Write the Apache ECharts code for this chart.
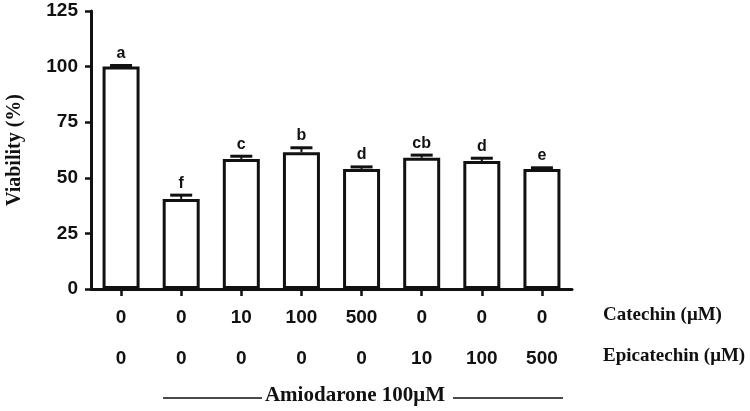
<!DOCTYPE html>
<html>
<head>
<meta charset="utf-8">
<script src="https://cdn.jsdelivr.net/npm/echarts@6/dist/echarts.min.js"></script>
<style>
html,body{margin:0;padding:0;background:#fff;}
#chart{width:750px;height:411px;}
</style>
</head>
<body>
<div id="chart"></div>
<script>
const catechin = ['0', '0', '10', '100', '500', '0', '0', '0'];
const epicatechin = ['0', '0', '0', '0', '0', '10', '100', '500'];
const viability = [100, 40.5, 58.5, 61.5, 54.0, 59.0, 57.5, 54.0];
const errors = [0.5, 1.7, 1.2, 2.0, 0.9, 1.2, 1.3, 0.5];
const letters = ['a', 'f', 'c', 'b', 'd', 'cb', 'd', 'e'];
const yTicks = [0, 25, 50, 75, 100, 125];
const groupLabel = 'Amiodarone 100\u03bcM';
const rowLabels = ['Catechin (\u03bcM)', 'Epicatechin (\u03bcM)'];

const idx = catechin.map((_, i) => i);
const SANS = '"Liberation Sans", Arial, sans-serif';
const SERIF = '"Liberation Serif", "Times New Roman", serif';

const chart = echarts.init(document.getElementById('chart'), null, {renderer: 'canvas'});
chart.setOption({
  animation: false,
  backgroundColor: '#fff',
  grid: {left: 91, right: 178, top: 11, bottom: 122, containLabel: false, outerBoundsMode: 'none'},
  xAxis: {
    type: 'category',
    data: idx,
    boundaryGap: true,
    axisLine: {lineStyle: {color: '#111', width: 3}},
    axisTick: {show: true, alignWithLabel: true, length: 7, lineStyle: {color: '#111', width: 2.5}},
    axisLabel: {
      interval: 0,
      margin: 8,
      formatter: function (v) {
        const i = Number(v);
        return '{a|' + catechin[i] + '}\n{b|' + epicatechin[i] + '}';
      },
      rich: {
        a: {fontFamily: SANS, fontWeight: 'bold', fontSize: 19, color: '#111', lineHeight: 41},
        b: {fontFamily: SANS, fontWeight: 'bold', fontSize: 19, color: '#111', lineHeight: 41}
      }
    },
    splitLine: {show: false}
  },
  yAxis: {
    type: 'value',
    min: yTicks[0],
    max: yTicks[yTicks.length - 1],
    interval: 25,
    name: 'Viability (%)',
    nameLocation: 'middle',
    nameGap: 66,
    nameRotate: 90,
    nameTextStyle: {fontFamily: SERIF, fontWeight: 'bold', fontSize: 20, color: '#111'},
    axisLine: {show: true, lineStyle: {color: '#111', width: 3}},
    axisTick: {show: true, inside: false, length: 6, lineStyle: {color: '#111', width: 2.5}},
    axisLabel: {margin: 13, fontFamily: SANS, fontWeight: 'bold', fontSize: 19, color: '#111'},
    splitLine: {show: false}
  },
  series: [
    {
      type: 'bar',
      data: viability,
      barWidth: 37,
      itemStyle: {color: '#fff', borderColor: '#111', borderWidth: 3},
      z: 2
    },
    {
      type: 'custom',
      z: 3,
      data: idx.map(i => [i, viability[i], errors[i]]),
      renderItem: function (params, api) {
        const x = api.value(0);
        const v = api.value(1);
        const e = api.value(2);
        const p0 = api.coord([x, v]);
        const p1 = api.coord([x, v + e]);
        const half = 11;
        return {
          type: 'group',
          children: [
            {type: 'line', shape: {x1: p0[0], y1: p0[1], x2: p1[0], y2: p1[1]}, style: {stroke: '#111', lineWidth: 2}},
            {type: 'line', shape: {x1: p1[0] - half, y1: p1[1], x2: p1[0] + half, y2: p1[1]}, style: {stroke: '#111', lineWidth: 3}},
            {type: 'text', x: p1[0], y: p1[1] - 4, style: {text: letters[params.dataIndex], fill: '#111', font: 'bold 16px ' + SANS, textAlign: 'center', textVerticalAlign: 'bottom'}}
          ]
        };
      }
    }
  ],
  graphic: [
    {type: 'text', left: 603, top: 306, style: {text: rowLabels[0], font: 'bold 19px ' + SERIF, fill: '#111'}},
    {type: 'text', left: 603, top: 347, style: {text: rowLabels[1], font: 'bold 19px ' + SERIF, fill: '#111'}},
    {type: 'text', x: 355, y: 396, style: {text: groupLabel, font: 'bold 21px ' + SERIF, fill: '#111', textAlign: 'center', textVerticalAlign: 'middle'}},
    {type: 'line', shape: {x1: 163, y1: 398, x2: 262, y2: 398}, style: {stroke: '#111', lineWidth: 1.5}},
    {type: 'line', shape: {x1: 453, y1: 398, x2: 563, y2: 398}, style: {stroke: '#111', lineWidth: 1.5}}
  ]
});
</script>
</body>
</html>
